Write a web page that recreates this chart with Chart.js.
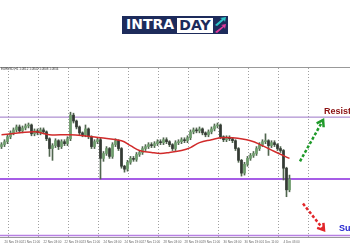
<!DOCTYPE html>
<html>
<head>
<meta charset="utf-8">
<script src="https://cdn.jsdelivr.net/npm/chart.js@4.4.0/dist/chart.umd.min.js"></script>
<style>
  html, body { margin: 0; padding: 0; background: #fff; }
  #wrap { position: relative; width: 350px; height: 250px; overflow: hidden; }
  #grafico { position: absolute; left: 0; top: 0; }
  #logo { position: absolute; left: 122px; top: 16px; width: 106px; height: 18px; background: #1d2b5b; }
  #logo .intra { position: absolute; left: 4px; top: 0; line-height: 18px; font: bold 14px "DejaVu Sans", sans-serif; color: #fff; }
  #logo .day { position: absolute; left: 55px; top: 2px; width: 36px; height: 15px; background: #fff; color: #1d2b5b;
               font: bold 14px "DejaVu Sans", sans-serif; line-height: 15px; text-align: center; }
  #logo svg { position: absolute; left: 92px; top: 1px; }
  #par { position: absolute; left: 1px; top: 67px; font: 3px "Liberation Sans", sans-serif; color: #333; white-space: nowrap; }
</style>
</head>
<body>
<div id="wrap">
  <canvas id="grafico" width="350" height="250"></canvas>
  <div id="logo">
    <span class="intra">INTRA</span><span class="day">DAY</span>
    <svg width="13" height="16" viewBox="0 0 13 16">
      <polygon points="1,8 8,2 6,1 12,0 11,5 10,3 3,9" fill="#2ec6c8"/>
      <polygon points="1,15 9,9 7,8 12,7 11,12 10,10 3,16" fill="#e23a9c"/>
    </svg>
  </div>
  <div id="par">EURUSD,H1 1.0812 1.0842 1.0808 1.0834</div>
</div>
<script>
// H1 candles, prices
const opens = [1.0900, 1.0904, 1.0910, 1.0920, 1.0928, 1.0934, 1.0940, 1.0932, 1.0938, 1.0942,
  1.0944, 1.0926, 1.0932, 1.0928, 1.0934, 1.0930, 1.0916, 1.0896, 1.0902, 1.0912,
  1.0900, 1.0910, 1.0906, 1.0916, 1.0964, 1.0952, 1.0940, 1.0928, 1.0924, 1.0936,
  1.0920, 1.0900, 1.0910, 1.0914, 1.0876, 1.0886, 1.0896, 1.0880, 1.0904, 1.0912,
  1.0896, 1.0860, 1.0854, 1.0868, 1.0876, 1.0874, 1.0884, 1.0888, 1.0896, 1.0900,
  1.0904, 1.0902, 1.0906, 1.0910, 1.0908, 1.0914, 1.0910, 1.0904, 1.0896, 1.0908,
  1.0910, 1.0914, 1.0912, 1.0918, 1.0930, 1.0934, 1.0932, 1.0936, 1.0928, 1.0924,
  1.0930, 1.0936, 1.0942, 1.0944, 1.0920, 1.0914, 1.0918, 1.0916, 1.0912, 1.0896,
  1.0872, 1.0846, 1.0864, 1.0876, 1.0882, 1.0886, 1.0896, 1.0904, 1.0910, 1.0912,
  1.0902, 1.0908, 1.0904, 1.0896, 1.0892, 1.0856, 1.0812];
const highs = [1.0908, 1.0914, 1.0924, 1.0932, 1.0938, 1.0944, 1.0944, 1.0942, 1.0946, 1.0948,
  1.0946, 1.0936, 1.0936, 1.0938, 1.0938, 1.0932, 1.0918, 1.0906, 1.0916, 1.0914,
  1.0914, 1.0914, 1.0920, 1.0970, 1.0968, 1.0954, 1.0942, 1.0930, 1.0944, 1.0938,
  1.0922, 1.0914, 1.0918, 1.0918, 1.0890, 1.0900, 1.0898, 1.0908, 1.0916, 1.0914,
  1.0898, 1.0862, 1.0872, 1.0880, 1.0880, 1.0888, 1.0892, 1.0900, 1.0904, 1.0908,
  1.0908, 1.0910, 1.0914, 1.0914, 1.0918, 1.0918, 1.0912, 1.0906, 1.0912, 1.0914,
  1.0918, 1.0918, 1.0922, 1.0934, 1.0938, 1.0938, 1.0940, 1.0938, 1.0930, 1.0934,
  1.0940, 1.0946, 1.0948, 1.0946, 1.0922, 1.0922, 1.0922, 1.0918, 1.0914, 1.0898,
  1.0874, 1.0868, 1.0880, 1.0886, 1.0890, 1.0900, 1.0908, 1.0914, 1.0926, 1.0914,
  1.0912, 1.0912, 1.0906, 1.0900, 1.0894, 1.0858, 1.0842];
const lows = [1.0896, 1.0900, 1.0906, 1.0916, 1.0924, 1.0930, 1.0928, 1.0928, 1.0934, 1.0938,
  1.0922, 1.0922, 1.0924, 1.0924, 1.0926, 1.0912, 1.0880, 1.0872, 1.0898, 1.0894,
  1.0896, 1.0902, 1.0902, 1.0912, 1.0948, 1.0936, 1.0924, 1.0920, 1.0920, 1.0916,
  1.0896, 1.0896, 1.0906, 1.0834, 1.0870, 1.0882, 1.0876, 1.0876, 1.0900, 1.0892,
  1.0856, 1.0848, 1.0850, 1.0864, 1.0870, 1.0870, 1.0880, 1.0884, 1.0892, 1.0896,
  1.0898, 1.0898, 1.0902, 1.0904, 1.0904, 1.0906, 1.0900, 1.0892, 1.0892, 1.0904,
  1.0906, 1.0908, 1.0908, 1.0914, 1.0926, 1.0928, 1.0928, 1.0924, 1.0920, 1.0920,
  1.0926, 1.0932, 1.0938, 1.0916, 1.0910, 1.0910, 1.0912, 1.0908, 1.0892, 1.0868,
  1.0840, 1.0842, 1.0860, 1.0872, 1.0878, 1.0882, 1.0892, 1.0900, 1.0906, 1.0882,
  1.0898, 1.0900, 1.0892, 1.0888, 1.0832, 1.0798, 1.0808];
const closes = [1.0904, 1.0910, 1.0920, 1.0928, 1.0934, 1.0940, 1.0932, 1.0938, 1.0942, 1.0944,
  1.0926, 1.0932, 1.0928, 1.0934, 1.0930, 1.0916, 1.0896, 1.0902, 1.0912, 1.0900,
  1.0910, 1.0906, 1.0916, 1.0964, 1.0952, 1.0940, 1.0928, 1.0924, 1.0936, 1.0920,
  1.0900, 1.0910, 1.0914, 1.0876, 1.0886, 1.0896, 1.0880, 1.0904, 1.0912, 1.0896,
  1.0860, 1.0854, 1.0868, 1.0876, 1.0874, 1.0884, 1.0888, 1.0896, 1.0900, 1.0904,
  1.0902, 1.0906, 1.0910, 1.0908, 1.0914, 1.0910, 1.0904, 1.0896, 1.0908, 1.0910,
  1.0914, 1.0912, 1.0918, 1.0930, 1.0934, 1.0932, 1.0936, 1.0928, 1.0924, 1.0930,
  1.0936, 1.0942, 1.0944, 1.0920, 1.0914, 1.0918, 1.0916, 1.0912, 1.0896, 1.0872,
  1.0846, 1.0864, 1.0876, 1.0882, 1.0886, 1.0896, 1.0904, 1.0910, 1.0912, 1.0902,
  1.0908, 1.0904, 1.0896, 1.0892, 1.0856, 1.0812, 1.0834];

// red moving average, read at some bars
const maBar = [0, 11, 16, 23, 33, 40, 43, 46, 50, 53, 56, 60, 63, 66, 70, 73, 77, 83, 87, 91, 96];
const maValue = [1.0924, 1.0930, 1.0924, 1.0924, 1.0918, 1.0912, 1.0902, 1.0892, 1.0888, 1.0886, 1.0888,
  1.0892, 1.0898, 1.0908, 1.0914, 1.0918, 1.0918, 1.0912, 1.0902, 1.0890, 1.0876];

const levelNames = ['Resistance', 'Support', 'Low'];
const levelPrices = [1.0960, 1.0834, 1.0719];

const upArrowBar = [99.5, 107.2];
const upArrowPrice = [1.0870, 1.0954];
const downArrowBar = [100.5, 107.5];
const downArrowPrice = [1.0784, 1.0730];

const noteText = ['Resistance', 'Support'];
const noteBar = [107.5, 112.5];
const notePrice = [1.0972, 1.0734];

const timeLabels = ['20 Nov 19:00', '21 Nov 11:00', '22 Nov 03:00', '22 Nov 19:00', '23 Nov 11:00',
  '24 Nov 03:00', '24 Nov 19:00', '27 Nov 11:00', '28 Nov 03:00', '28 Nov 19:00', '29 Nov 11:00',
  '30 Nov 03:00', '30 Nov 19:00', '1 Dec 11:00', '4 Dec 03:00'];
const labelBar = [1, 7, 14, 21, 27, 34, 41, 47, 54, 61, 67, 74, 81, 87, 94];

const xMin = -0.5, xMax = 116.17;
const gridBars = [2.5, 12.5, 22.5, 32.5, 42.5, 52.5, 62.5, 72.5, 82.5, 92.5, 102.5];

const bars = closes.map((c, i) => i);
const levelStyle = [['#9a74c6', 1], ['#a65de6', 2], ['#b77fe2', 1.5]];

const extras = {
  id: 'extras',
  afterDatasetsDraw(chart) {
    const { ctx, scales: { x, y } } = chart;
    [[upArrowBar, upArrowPrice, '#1f9a2a'], [downArrowBar, downArrowPrice, '#e2262a']].forEach(([xs, ys, col]) => {
      const x1 = x.getPixelForValue(xs[0]), y1 = y.getPixelForValue(ys[0]);
      const x2 = x.getPixelForValue(xs[1]), y2 = y.getPixelForValue(ys[1]);
      const ang = Math.atan2(y2 - y1, x2 - x1);
      ctx.save();
      ctx.translate(x2, y2);
      ctx.rotate(ang);
      ctx.strokeStyle = col;
      ctx.lineWidth = 2.5;
      ctx.beginPath();
      ctx.moveTo(-6, -4);
      ctx.lineTo(0, 0);
      ctx.lineTo(-6, 4);
      ctx.stroke();
      ctx.restore();
    });
    ctx.save();
    ctx.font = 'bold 9px "Liberation Sans", Arial, sans-serif';
    ctx.textBaseline = 'middle';
    ctx.textAlign = 'left';
    const noteCol = ['#8b1111', '#1f1fcf'];
    noteText.forEach((t, i) => {
      ctx.fillStyle = noteCol[i];
      ctx.fillText(t, x.getPixelForValue(noteBar[i]), y.getPixelForValue(notePrice[i]));
    });
    ctx.restore();
  }
};

new Chart(document.getElementById('grafico'), {
  type: 'bar',
  data: {
    datasets: [
      ...levelPrices.map((p, i) => ({
        type: 'line', label: levelNames[i],
        data: [{ x: xMin, y: p }, { x: xMax, y: p }],
        borderColor: levelStyle[i][0], borderWidth: levelStyle[i][1],
        pointRadius: 0, order: 6
      })),
      {
        label: 'wick', data: bars.map(i => ({ x: i, y: [lows[i], highs[i]] })),
        backgroundColor: '#51664f', barThickness: 1, grouped: false, order: 4
      },
      {
        label: 'body', data: bars.map(i => ({ x: i, y: [opens[i], closes[i]] })),
        backgroundColor: bars.map(i => closes[i] >= opens[i] ? '#6e9d6c' : '#343a34'),
        barThickness: 2, minBarLength: 1, grouped: false, order: 3
      },
      {
        type: 'line', label: 'MA', data: maBar.map((b, i) => ({ x: b, y: maValue[i] })),
        borderColor: '#d12b2b', borderWidth: 1.5, pointRadius: 0, tension: 0.4, order: 2
      },
      {
        type: 'line', label: 'up', data: upArrowBar.map((b, i) => ({ x: b, y: upArrowPrice[i] })),
        borderColor: '#1f9a2a', borderWidth: 2.5, borderDash: [3, 2], pointRadius: 0, order: 1
      },
      {
        type: 'line', label: 'down', data: downArrowBar.map((b, i) => ({ x: b, y: downArrowPrice[i] })),
        borderColor: '#e2262a', borderWidth: 2.5, borderDash: [3, 2], pointRadius: 0, order: 1
      }
    ]
  },
  options: {
    responsive: false,
    animation: false,
    layout: { padding: { top: 67, bottom: 3.4, left: 0, right: 0 } },
    plugins: { legend: { display: false }, tooltip: { enabled: false } },
    scales: {
      x: {
        type: 'linear', min: xMin, max: xMax, position: 'bottom', offset: false,
        afterBuildTicks: s => { s.ticks = labelBar.map(v => ({ value: v })); },
        ticks: {
          autoSkip: false, maxRotation: 0, minRotation: 0, align: 'start', padding: 3,
          color: '#666', font: { size: 3, family: 'Liberation Sans' },
          callback: v => timeLabels[labelBar.indexOf(v)]
        },
        grid: { display: false, drawTicks: false },
        border: { display: true, color: '#999', width: 1 }
      },
      x2: {
        type: 'linear', min: xMin, max: xMax, position: 'top', offset: false,
        afterBuildTicks: s => { s.ticks = gridBars.map(v => ({ value: v })); },
        ticks: { display: false },
        grid: { color: '#a0a0a0', drawTicks: false, lineWidth: 1, offset: false },
        border: { display: true, color: '#999', dash: [1, 2] }
      },
      y: { display: false, min: 1.0716, max: 1.1062 }
    }
  },
  plugins: [extras]
});
</script>
</body>
</html>
